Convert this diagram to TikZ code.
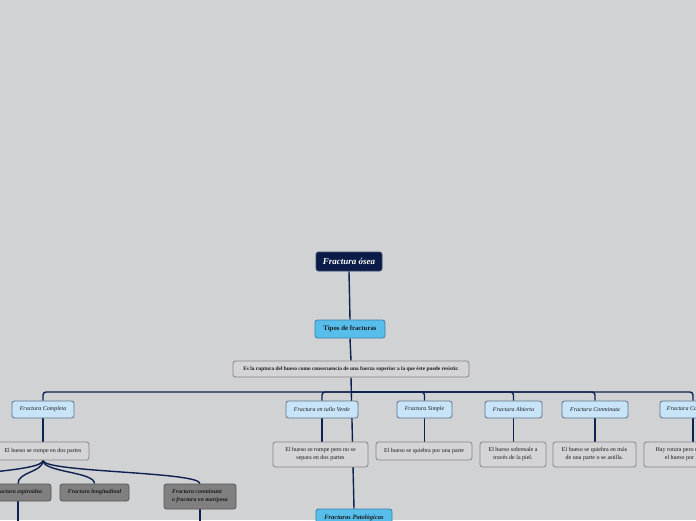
\documentclass[tikz,border=0pt]{standalone}
\usepackage{fontspec}
\setmainfont{Liberation Serif}
\usetikzlibrary{backgrounds}

\definecolor{paper}{HTML}{D1D2D4}
\definecolor{ink}{HTML}{1A1A1A}
\definecolor{linkcol}{HTML}{0D2150}
\definecolor{rootfill}{HTML}{0B1B47}
\definecolor{rootline}{HTML}{3A4A6E}
\definecolor{topicfill}{HTML}{57BEEC}
\definecolor{topicline}{HTML}{3C7FA6}
\definecolor{subfill}{HTML}{C8E4F8}
\definecolor{subline}{HTML}{5E7288}
\definecolor{notefill}{HTML}{D4D4D6}
\definecolor{noteline}{HTML}{858585}
\definecolor{leaffill}{HTML}{808080}
\definecolor{leafline}{HTML}{555555}

\tikzset{
    box/.style={draw, rounded corners=2.5pt, line width=0.8pt, align=center,
        inner sep=1pt, text=ink},
    rootbox/.style={box, fill=rootfill, draw=rootline, text=white,
        minimum width=66pt, minimum height=19pt,
        font=\fontsize{9}{10}\selectfont\bfseries\itshape},
    topicbox/.style={box, fill=topicfill, draw=topicline,
        minimum height=18pt, font=\fontsize{6.8}{8}\selectfont\bfseries},
    descbox/.style={box, fill=notefill, draw=noteline,
        minimum width=236pt, minimum height=16pt,
        font=\fontsize{5.4}{6}\selectfont\bfseries},
    subbox/.style={box, fill=subfill, draw=subline,
        minimum height=17pt, font=\fontsize{6}{7}\selectfont\itshape},
    notebox/.style={box, fill=notefill, draw=noteline,
        font=\fontsize{6}{8}\selectfont},
    leafbox/.style={box, fill=leaffill, draw=leafline, align=left,
        font=\fontsize{5.9}{8}\selectfont\bfseries\itshape},
    link/.style={draw=linkcol, line width=1.4pt}
}

\begin{document}
\begin{tikzpicture}[x=1pt,y=-1pt]
\useasboundingbox (0,0) rectangle (696,520);

% Central topic
\node[rootbox] (root) at (349,261.5) {Fractura ósea};
\node[topicbox, minimum width=70pt] (tipos) at (350,329) {Tipos de fracturas};
\node[descbox] (desc) at (351,369)
    {Es la ruptura del hueso como consecuencia de una fuerza superior a la que éste puede resistir.};

% Types
\node[subbox, minimum width=62pt] (completa) at (43,409.5) {Fractura Completa};
\node[subbox, minimum width=72pt] (tallo) at (322,409.5) {Fractura en tallo Verde};
\node[subbox, minimum width=55pt] (simple) at (424.5,409.5) {Fractura Simple};
\node[subbox, minimum width=57pt] (abierta) at (513.5,409.5) {Fractura Abierta};
\node[subbox, minimum width=66pt] (conminuta) at (595,409.5) {Fractura Conminuta};
\node[subbox, minimum width=66pt] (compresion) at (693,409.5) {Fractura Compresión};

% Explanations
\node[notebox, minimum width=92pt, minimum height=18pt] (completa-note) at (43,451)
    {El hueso se rompe en dos partes};
\node[notebox, minimum width=95pt, minimum height=25pt] (tallo-note) at (320.5,454.5)
    {El hueso se rompe pero no se\\separa en dos partes};
\node[notebox, minimum width=96pt, minimum height=18pt] (simple-note) at (424,451)
    {El hueso se quiebra por una parte};
\node[notebox, minimum width=66pt, minimum height=25pt] (abierta-note) at (513,454.5)
    {El hueso sobresale a\\través de la piel.};
\node[notebox, minimum width=83pt, minimum height=25pt] (conminuta-note) at (594.5,454.5)
    {El hueso se quiebra en más\\de una parte o se astilla.};
\node[notebox, minimum width=92pt, minimum height=25pt] (compresion-note) at (690,454.5)
    {Hay rotura pero no se separa\\el hueso por la mitad};

% Kinds of complete fracture
\node[leafbox, minimum width=66pt, minimum height=17pt] (espiro) at (18,492.5) {Fractura espiroidea};
\node[leafbox, minimum width=69pt, minimum height=17pt] (longi) at (94.5,492.5) {Fractura longitudinal};
\node[leafbox, minimum width=72pt, minimum height=25pt] (mariposa) at (200,496.5)
    {Fractura conminuta\\o fractura en mariposa};

% Pathological
\node[topicbox, minimum width=76pt, font=\fontsize{6.5}{7}\selectfont\bfseries\itshape]
    (pato) at (354,518) {Fracturas Patológicas};

% Connectors
\begin{scope}[on background layer]
\fill[paper] (0,0) rectangle (696,520);
\coordinate (bar) at (351,392);
\coordinate (offleaf) at (-60,484);
\coordinate (espiro-end) at (18,530);
\coordinate (mariposa-end) at (200,530);
\draw[link] (root.south) -- (tipos.north);
\draw[link] (tipos.south) -- (desc.north);
\draw[link] (desc.south) -- (pato.north);
\foreach \n in {completa,tallo,simple,abierta,conminuta,compresion} {
    \draw[link, rounded corners=3pt] (bar) -| (\n.north);
    \draw[link] (\n.south) -- (\n.south |- \n-note.north);
}
\foreach \n in {espiro,longi,mariposa,offleaf}
    \draw[link] (completa-note.south) .. controls +(0,12) and +(0,-12) .. (\n.north);
\draw[link] (espiro.south) -- (espiro-end);
\draw[link] (mariposa.south) -- (mariposa-end);
\end{scope}

\end{tikzpicture}
\end{document}
